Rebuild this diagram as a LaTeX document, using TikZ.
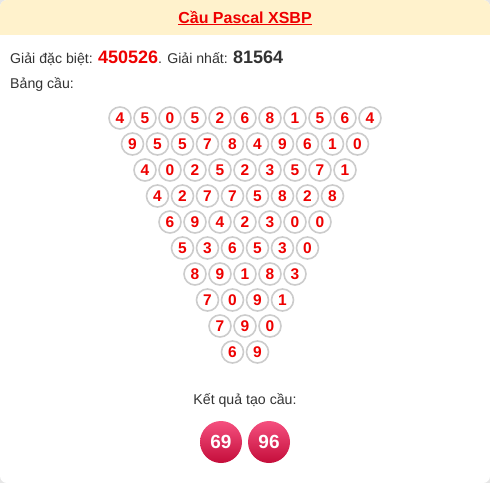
\documentclass[tikz,border=0pt]{standalone}
\usepackage{fontspec}
\setmainfont{Liberation Sans}
\definecolor{hdr}{HTML}{FFF2CC}
\definecolor{txt}{HTML}{333333}
\definecolor{redd}{HTML}{EE0000}
\definecolor{ring}{HTML}{CCCCCC}
\definecolor{balltop}{HTML}{F5507F}
\definecolor{ballbot}{HTML}{C40D3A}
\definecolor{outside}{HTML}{E6E6E6}
\tikzset{
  digit/.style={circle, draw=ring, line width=1.6pt, fill=white, minimum size=22pt, inner sep=0pt,
    font=\fontsize{15.5}{15.5}\selectfont\bfseries, text=redd},
  ball/.style={circle, minimum size=42pt, inner sep=0pt, top color=balltop, bottom color=ballbot,
    font=\fontsize{19}{19}\selectfont\bfseries, text=white},
  lbl/.style={inner sep=0pt, text=txt, font=\fontsize{14.15}{16}\selectfont}
}
\begin{document}
\begin{tikzpicture}[x=1pt,y=-1pt]
\useasboundingbox (0,0) rectangle (490,483);
\fill[outside] (0,0) rectangle (490,483);
\fill[white, rounded corners=7pt] (0,0) rectangle (490,483);
\begin{scope}
\clip[rounded corners=7pt] (0,0) rectangle (490,483);
\fill[hdr] (0,0) rectangle (490,35);
\end{scope}
\node[inner sep=0pt, anchor=base, text=redd, font=\fontsize{16}{16}\selectfont\bfseries] (title) at (245,23) {\underline{Cầu Pascal XSBP}};
\node[lbl, anchor=base west] (line1) at (10,63) {Giải đặc biệt: {\fontsize{18}{18}\selectfont\bfseries\color{redd}450526}. Giải nhất: {\fontsize{18}{18}\selectfont\bfseries 81564}};
\node[lbl, anchor=base west] (line2) at (10,88) {Bảng cầu:};
\foreach \row [count=\i from 0] in {
  {4,5,0,5,2,6,8,1,5,6,4},
  {9,5,5,7,8,4,9,6,1,0},
  {4,0,2,5,2,3,5,7,1},
  {4,2,7,7,5,8,2,8},
  {6,9,4,2,3,0,0},
  {5,3,6,5,3,0},
  {8,9,1,8,3},
  {7,0,9,1},
  {7,9,0},
  {6,9}} {
  \foreach \d [count=\j from 0] in \row {
    \pgfmathsetmacro{\xx}{245+(\j-(10-\i)/2)*25}
    \pgfmathsetmacro{\yy}{118+\i*26}
    \node[digit] (c\i-\j) at (\xx,\yy) {\d};
  }
}
\node[lbl, anchor=base] (res) at (245,404) {Kết quả tạo cầu:};
\node[ball] (b1) at (221,442) {69};
\node[ball] (b2) at (269,442) {96};
\end{tikzpicture}
\end{document}
